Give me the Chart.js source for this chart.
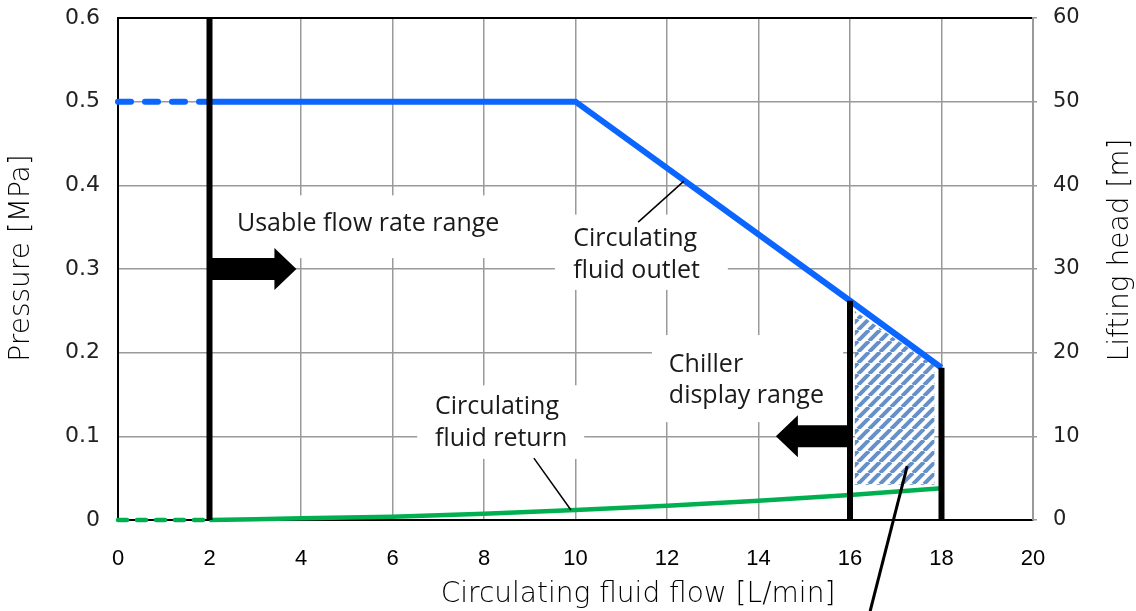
<!DOCTYPE html>
<html lang="en">
<head>
    <meta charset="UTF-8">
    <title>Circulating fluid pump capacity</title>
    <script src="https://cdn.jsdelivr.net/npm/chart.js"></script>
    <style>
        html, body { margin: 0; padding: 0; background: #fff; }
        canvas { display: block; }
    </style>
</head>
<body>
    <canvas id="pumpChart" width="1136" height="611"></canvas>

    <script>
        // flow [L/min] -> pressure [MPa]
        const outletDashFlow = [0, 2];
        const outletDashPressure = [0.5, 0.5];
        const outletFlow = [2, 10, 16, 18];
        const outletPressure = [0.5, 0.5, 0.262, 0.182];

        const returnDashFlow = [0, 2];
        const returnDashPressure = [0, 0];
        const returnFlow = [2, 4, 6, 8, 10, 12, 14, 16, 18];
        const returnPressure = [0, 0.002, 0.004, 0.0075, 0.012, 0.017, 0.023, 0.03, 0.038];

        // limit lines (usable minimum, chiller display range)
        const limitFlow = [2, 16, 18];
        const limitTop = [0.6, 0.262, 0.182];

        // hatched display range
        const hatchFlow = [16.1, 17.85];
        const hatchTop = [0.25, 0.184];
        const hatchBottom = 0.042;

        // arrows: from flow, to flow, at pressure
        const arrowFrom = [2, 16];
        const arrowTo = [3.9, 14.38];
        const arrowAt = [0.3, 0.1];

        const xTicks = [0, 2, 4, 6, 8, 10, 12, 14, 16, 18, 20];
        const pressureTicks = [0, 0.1, 0.2, 0.3, 0.4, 0.5, 0.6];
        const headTicks = [0, 10, 20, 30, 40, 50, 60];

        const BLUE = '#0a66ff';
        const GREEN = '#00b050';
        const GRID = '#9a9a9a';
        const NOTE_FONT = '"Open Sans", "Noto Sans", sans-serif';
        const TITLE_FONT = '"DejaVu Sans", sans-serif';

        function pts(xs, ys) {
            return xs.map((x, i) => ({ x: x, y: ys[i] }));
        }

        // diagonal hatch fill
        function makeHatch() {
            const size = 11;
            const c = document.createElement('canvas');
            c.width = size; c.height = size;
            const g = c.getContext('2d');
            g.fillStyle = '#fff';
            g.fillRect(0, 0, size, size);
            g.strokeStyle = '#6690c8';
            g.lineWidth = 4;
            g.beginPath();
            for (let k = -1; k <= 1; k++) {
                g.moveTo(k * size, size);
                g.lineTo(k * size + size, 0);
            }
            g.stroke();
            return g.createPattern(c, 'repeat');
        }

        const ctx = document.getElementById('pumpChart').getContext('2d');

        const limitSets = limitFlow.map((f, i) => ({
            label: 'limit ' + f,
            data: pts([f, f], [0, limitTop[i]]),
            borderColor: '#000',
            borderWidth: 6,
            borderCapStyle: 'butt',
            order: 0
        }));

        // white boxes behind labels, leader lines and texts (flow, pressure)
        const boxes = [
            [2.34, 0.388, 8.57, 0.313],
            [9.55, 0.365, 13.33, 0.275],
            [11.67, 0.221, 15.85, 0.117],
            [6.54, 0.161, 10.19, 0.073]
        ];
        const leaders = [
            [11.37, 0.356, 12.37, 0.405],
            [9.09, 0.074, 9.9, 0.012],
            [17.25, 0.0645, 16.44, -0.109]
        ];
        const notes = [
            ['Usable flow rate range', 2.6, 0.354],
            ['Circulating', 9.95, 0.336],
            ['fluid outlet', 9.95, 0.298],
            ['Chiller', 12.04, 0.186],
            ['display range', 12.04, 0.148],
            ['Circulating', 6.93, 0.135],
            ['fluid return', 6.93, 0.097]
        ];

        const annotate = {
            id: 'annotate',
            beforeDatasetsDraw(chart) {
                const c = chart.ctx, xs = chart.scales.x, ys = chart.scales.y;
                c.save();
                c.fillStyle = '#fff';
                boxes.forEach(b => {
                    const x1 = xs.getPixelForValue(b[0]), y1 = ys.getPixelForValue(b[1]);
                    const x2 = xs.getPixelForValue(b[2]), y2 = ys.getPixelForValue(b[3]);
                    c.fillRect(x1, y1, x2 - x1, y2 - y1);
                });
                c.restore();
            },
            afterDatasetsDraw(chart) {
                const c = chart.ctx, xs = chart.scales.x, ys = chart.scales.y;
                c.save();

                // arrows
                c.fillStyle = '#000';
                arrowFrom.forEach((f, i) => {
                    const x0 = xs.getPixelForValue(f);
                    const x1 = xs.getPixelForValue(arrowTo[i]);
                    const y = ys.getPixelForValue(arrowAt[i]);
                    const dir = x1 > x0 ? 1 : -1;
                    const headLen = 22, shaft = 11, head = 21;
                    const xb = x1 - dir * headLen;
                    c.beginPath();
                    c.moveTo(x0, y - shaft);
                    c.lineTo(xb, y - shaft);
                    c.lineTo(xb, y - head);
                    c.lineTo(x1, y);
                    c.lineTo(xb, y + head);
                    c.lineTo(xb, y + shaft);
                    c.lineTo(x0, y + shaft);
                    c.closePath();
                    c.fill();
                });

                // leader lines
                c.strokeStyle = '#000';
                leaders.forEach((l, i) => {
                    c.lineWidth = i === 2 ? 3 : 1.5;
                    c.beginPath();
                    c.moveTo(xs.getPixelForValue(l[0]), ys.getPixelForValue(l[1]));
                    c.lineTo(xs.getPixelForValue(l[2]), ys.getPixelForValue(l[3]));
                    c.stroke();
                });

                // notes
                c.fillStyle = '#1a1a1a';
                c.font = '25px ' + NOTE_FONT;
                c.textBaseline = 'middle';
                c.textAlign = 'left';
                notes.forEach(n => {
                    c.fillText(n[0], xs.getPixelForValue(n[1]), ys.getPixelForValue(n[2]));
                });

                // axis titles
                c.fillStyle = '#000';
                c.font = '200 28px ' + TITLE_FONT;
                c.textAlign = 'center';
                c.fillText('Circulating fluid flow [L/min]', 638, 595);
                c.save();
                c.translate(22, 258);
                c.rotate(-Math.PI / 2);
                c.fillText('Pressure [MPa]', 0, 0);
                c.restore();
                c.save();
                c.translate(1121, 250);
                c.rotate(-Math.PI / 2);
                c.fillText('Lifting head [m]', 0, 0);
                c.restore();

                c.restore();
            }
        };

        function fixSide(width) {
            return s => {
                s.width = width;
                s.paddingTop = 0;
                s.paddingBottom = 0;
            };
        }

        new Chart(ctx, {
            type: 'line',
            data: {
                datasets: [
                    ...limitSets,
                    {
                        label: 'Circulating fluid outlet',
                        data: pts(outletFlow, outletPressure),
                        borderColor: BLUE,
                        borderWidth: 6,
                        order: 1
                    },
                    {
                        label: 'outlet (below range)',
                        data: pts(outletDashFlow, outletDashPressure),
                        borderColor: BLUE,
                        borderWidth: 6,
                        borderDash: [13, 14],
                        borderCapStyle: 'round',
                        order: 1
                    },
                    {
                        label: 'Circulating fluid return',
                        data: pts(returnFlow, returnPressure),
                        borderColor: GREEN,
                        borderWidth: 4.5,
                        cubicInterpolationMode: 'monotone',
                        order: 1
                    },
                    {
                        label: 'return (below range)',
                        data: pts(returnDashFlow, returnDashPressure),
                        borderColor: GREEN,
                        borderWidth: 4.5,
                        borderDash: [9, 10],
                        borderCapStyle: 'round',
                        order: 1
                    },
                    {
                        label: 'Chiller display range',
                        data: pts(hatchFlow, hatchTop),
                        borderWidth: 0,
                        borderColor: 'rgba(0,0,0,0)',
                        backgroundColor: makeHatch(),
                        fill: { value: hatchBottom },
                        order: 2
                    }
                ]
            },
            options: {
                responsive: false,
                animation: false,
                devicePixelRatio: 1,
                clip: 10,
                elements: {
                    point: { radius: 0, hoverRadius: 0 },
                    line: { tension: 0 }
                },
                layout: { padding: { top: 18, left: 0, right: 0, bottom: 0 } },
                plugins: {
                    legend: { display: false },
                    tooltip: { enabled: false }
                },
                scales: {
                    x: {
                        type: 'linear',
                        min: 0,
                        max: 20,
                        afterBuildTicks: s => { s.ticks = xTicks.map(v => ({ value: v })); },
                        afterFit: s => { s.height = 91; },
                        ticks: {
                            color: '#000',
                            padding: 26,
                            font: { family: '"Liberation Sans", Arial, sans-serif', size: 22 }
                        },
                        grid: { color: GRID, lineWidth: 1.5, drawTicks: false },
                        border: { color: '#000', width: 2 }
                    },
                    y: {
                        position: 'left',
                        min: 0,
                        max: 0.6,
                        afterBuildTicks: s => { s.ticks = pressureTicks.map(v => ({ value: v })); },
                        afterFit: fixSide(118),
                        ticks: {
                            color: '#222',
                            padding: 18,
                            callback: v => String(v),
                            font: { family: TITLE_FONT, size: 22 }
                        },
                        grid: {
                            color: c => c.tick && c.tick.value === 0.6 ? '#000' : GRID,
                            lineWidth: c => c.tick && c.tick.value === 0.6 ? 2 : 1.5,
                            drawTicks: false
                        },
                        border: { color: '#000', width: 2 }
                    },
                    y2: {
                        position: 'right',
                        min: 0,
                        max: 60,
                        afterBuildTicks: s => { s.ticks = headTicks.map(v => ({ value: v })); },
                        afterFit: fixSide(103),
                        ticks: {
                            color: '#222',
                            padding: 16,
                            font: { family: TITLE_FONT, size: 21 }
                        },
                        grid: { drawOnChartArea: false, color: GRID, tickLength: 4, lineWidth: 1.5 },
                        border: { color: GRID, width: 2 }
                    }
                }
            },
            plugins: [annotate]
        });
    </script>
</body>
</html>
